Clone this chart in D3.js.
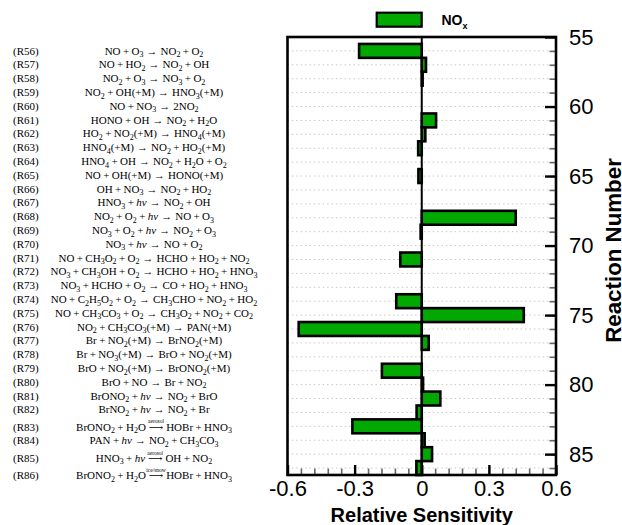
<!DOCTYPE html>
<html>
<head>
<meta charset="utf-8">
<script src="https://cdn.jsdelivr.net/npm/d3@7"></script>
<style>
  html, body { margin: 0; padding: 0; background: #fff; }
  svg { display: block; }
</style>
</head>
<body>
<svg id="chart" width="622" height="525"></svg>
<script>
// Reaction numbers shown on the sensitivity axis
const reactionNumbers = [56, 57, 58, 59, 60, 61, 62, 63, 64, 65, 66, 67, 68, 69, 70,
  71, 72, 73, 74, 75, 76, 77, 78, 79, 80, 81, 82, 83, 84, 85, 86];

// Reaction equations: "_n" is a subscript, "→{text}" is an arrow with text above it
const reactionLabels = [
  "NO + O_3 → NO_2 + O_2",
  "NO + HO_2 → NO_2 + OH",
  "NO_2 + O_3 → NO_3 + O_2",
  "NO_2 + OH(+M) → HNO_3(+M)",
  "NO + NO_3 → 2NO_2",
  "HONO + OH → NO_2 + H_2O",
  "HO_2 + NO_2(+M) → HNO_4(+M)",
  "HNO_4(+M) → NO_2 + HO_2(+M)",
  "HNO_4 + OH → NO_2 + H_2O + O_2",
  "NO + OH(+M) → HONO(+M)",
  "OH + NO_3 → NO_2 + HO_2",
  "HNO_3 + hν → NO_2 + OH",
  "NO_2 + O_2 + hν → NO + O_3",
  "NO_3 + O_2 + hν → NO_2 + O_3",
  "NO_3 + hν → NO + O_2",
  "NO + CH_3O_2 + O_2 → HCHO + HO_2 + NO_2",
  "NO_3 + CH_3OH + O_2 → HCHO + HO_2 + HNO_3",
  "NO_3 + HCHO + O_2 → CO + HO_2 + HNO_3",
  "NO + C_2H_5O_2 + O_2 → CH_3CHO + NO_2 + HO_2",
  "NO + CH_3CO_3 + O_2 → CH_3O_2 + NO_2 + CO_2",
  "NO_2 + CH_3CO_3(+M) → PAN(+M)",
  "Br + NO_2(+M) → BrNO_2(+M)",
  "Br + NO_3(+M) → BrO + NO_2(+M)",
  "BrO + NO_2(+M) → BrONO_2(+M)",
  "BrO + NO → Br + NO_2",
  "BrONO_2 + hν → NO_2 + BrO",
  "BrNO_2 + hν → NO_2 + Br",
  "BrONO_2 + H_2O →{aerosol} HOBr + HNO_3",
  "PAN + hν → NO_2 + CH_3CO_3",
  "HNO_3 + hν →{aerosol} OH + NO_2",
  "BrONO_2 + H_2O →{ice/snow} HOBr + HNO_3"
];

// Relative sensitivity of NOx to each reaction
const noxSensitivity = [-0.28, 0.019, 0.004, 0, 0, 0.064, 0.016, -0.016, 0, -0.015,
  0, 0, 0.42, -0.005, 0, -0.096, 0, 0, -0.114, 0.456,
  -0.55, 0.031, 0, -0.178, 0.006, 0.083, -0.023, -0.31, 0.013, 0.046, -0.024];

const xTickValues = [-0.6, -0.3, 0, 0.3, 0.6];
const yTickValues = [55, 60, 65, 70, 75, 80, 85];
const seriesLabel = ["NO", "x"];

const svg = d3.select("#chart");
const sansFont = "'Liberation Sans', Arial, Helvetica, sans-serif";
const serifFont = "'Liberation Serif', 'Times New Roman', serif";
const barGreen = "#00a800";

const x = d3.scaleLinear().domain([-0.6, 0.6]).range([287.5, 556]);
const y = d3.scaleLinear().domain([55, 86.5]).range([37, 475]);

// dotted row guides
svg.append("g")
  .selectAll("line")
  .data(reactionNumbers)
  .join("line")
  .attr("x1", x(-0.6)).attr("x2", x(0.6))
  .attr("y1", d => y(d)).attr("y2", d => y(d))
  .attr("stroke", "#c4c4c4")
  .attr("stroke-width", 1)
  .attr("stroke-dasharray", "1.4,3");

// sensitivity bars, one reaction unit tall
const rows = reactionNumbers.map((n, i) => ({ n, v: noxSensitivity[i] }));
svg.append("g")
  .selectAll("rect")
  .data(rows)
  .join("rect")
  .attr("x", d => x(Math.min(0, d.v)))
  .attr("width", d => Math.abs(x(d.v) - x(0)))
  .attr("y", d => y(d.n - 0.5))
  .attr("height", d => y(d.n + 0.5) - y(d.n - 0.5))
  .attr("fill", barGreen)
  .attr("stroke", "#000")
  .attr("stroke-width", 2.6);

// zero reference line
svg.append("line")
  .attr("x1", x(0)).attr("x2", x(0))
  .attr("y1", y(55)).attr("y2", y(86.5))
  .attr("stroke", "#000")
  .attr("stroke-width", 2);

// right axis: minor ticks at each reaction, major ticks with labels
const rightMinor = svg.append("g")
  .attr("transform", `translate(${x(0.6)},0)`)
  .call(d3.axisRight(y).tickValues(reactionNumbers).tickSize(-6.5).tickFormat(""));
rightMinor.select(".domain").remove();
rightMinor.selectAll("line").attr("stroke", "#666").attr("stroke-width", 1.6);

const rightMajor = svg.append("g")
  .attr("transform", `translate(${x(0.6)},0)`)
  .call(d3.axisRight(y).tickValues(yTickValues).tickSizeInner(-11).tickSizeOuter(0).tickPadding(13));
rightMajor.select(".domain").remove();
rightMajor.selectAll("line").attr("stroke", "#000").attr("stroke-width", 2.4);
rightMajor.selectAll("text")
  .attr("font-family", sansFont).attr("font-size", 22).attr("fill", "#000");

// bottom axis
const bottomMinor = svg.append("g")
  .attr("transform", `translate(0,${y(86.5)})`)
  .call(d3.axisBottom(x).tickValues(d3.range(-10, 11).map(i => i * 0.06)).tickSize(-6.5).tickFormat(""));
bottomMinor.select(".domain").remove();
bottomMinor.selectAll("line").attr("stroke", "#666").attr("stroke-width", 1.6);

const bottomMajor = svg.append("g")
  .attr("transform", `translate(0,${y(86.5)})`)
  .call(d3.axisBottom(x).tickValues(xTickValues).tickSizeInner(-10).tickSizeOuter(0).tickPadding(5)
    .tickFormat(d => d === 0 ? "0" : d.toFixed(1)));
bottomMajor.select(".domain").remove();
bottomMajor.selectAll("line").attr("stroke", "#000").attr("stroke-width", 2.4);
bottomMajor.selectAll("text")
  .attr("font-family", sansFont).attr("font-size", 22).attr("fill", "#000");

// plot frame
svg.append("rect")
  .attr("x", x(-0.6)).attr("y", y(55))
  .attr("width", x(0.6) - x(-0.6)).attr("height", y(86.5) - y(55))
  .attr("fill", "none").attr("stroke", "#000").attr("stroke-width", 2.6);

// axis titles
svg.append("text")
  .attr("x", x(0)).attr("y", 522)
  .attr("text-anchor", "middle")
  .attr("font-family", sansFont).attr("font-weight", "bold").attr("font-size", 20)
  .text("Relative Sensitivity");

svg.append("text")
  .attr("transform", "translate(621,250.5) rotate(-90)")
  .attr("text-anchor", "middle")
  .attr("font-family", sansFont).attr("font-weight", "bold").attr("font-size", 22.3)
  .text("Reaction Number");

// legend
const legend = svg.append("g");
legend.append("rect")
  .attr("x", 376.7).attr("y", 12.7).attr("width", 45).attr("height", 14)
  .attr("fill", barGreen).attr("stroke", "#000").attr("stroke-width", 2.2);
const legendText = legend.append("text")
  .attr("x", 441.5).attr("y", 25)
  .attr("font-family", sansFont).attr("font-weight", "bold").attr("font-size", 14);
legendText.append("tspan").text(seriesLabel[0]);
legendText.append("tspan").attr("font-size", 9).attr("dy", 3.5).text(seriesLabel[1]);

// reaction equations column
const labelSize = 11, subSize = 8;
const labels = svg.append("g").attr("font-family", serifFont).attr("fill", "#000");

function putText(g, str, px, py, opts = {}) {
  const t = g.append("text")
    .attr("x", px).attr("y", py)
    .attr("font-size", opts.size || labelSize)
    .text(str);
  if (opts.italic) t.attr("font-style", "italic");
  if (opts.family) t.attr("font-family", opts.family);
  if (opts.anchor) t.attr("text-anchor", opts.anchor);
  return t.node().getComputedTextLength();
}

let rowY = 50.7;
reactionLabels.forEach((src, i) => {
  const hasOver = src.includes("{");
  if (i > 0) rowY += 13.8 + (hasOver ? 3.5 : 0);
  const base = rowY + 3.8;

  putText(labels, `(R${reactionNumbers[i]})`, 13, base);

  const g = labels.append("g");
  let cx = 0;
  src.split(" ").forEach(tok => {
    if (tok === "+") {
      cx += 2.4;
      cx += putText(g, "+", cx, base);
      cx += 2.4;
    } else if (tok === "→") {
      cx += 3;
      cx += putText(g, "→", cx, base);
      cx += 3;
    } else if (tok.startsWith("→{")) {
      const over = tok.slice(2, -1);
      cx += 3;
      const w = putText(g, "⟶", cx, base, { family: "'DejaVu Serif','DejaVu Sans',serif", size: 10 });
      putText(g, over, cx + w / 2, base - 7.2, { size: 5.5, anchor: "middle" });
      cx += w + 3;
    } else if (tok === "hν") {
      cx += putText(g, "hν", cx, base, { italic: true });
    } else {
      tok.split(/(_\d+)/).filter(s => s.length).forEach(part => {
        if (part[0] === "_") {
          cx += putText(g, part.slice(1), cx, base + 2.6, { size: subSize });
        } else {
          cx += putText(g, part, cx, base);
        }
      });
    }
  });
  g.attr("transform", `translate(${154 - cx / 2},0)`);
});
</script>
</body>
</html>
